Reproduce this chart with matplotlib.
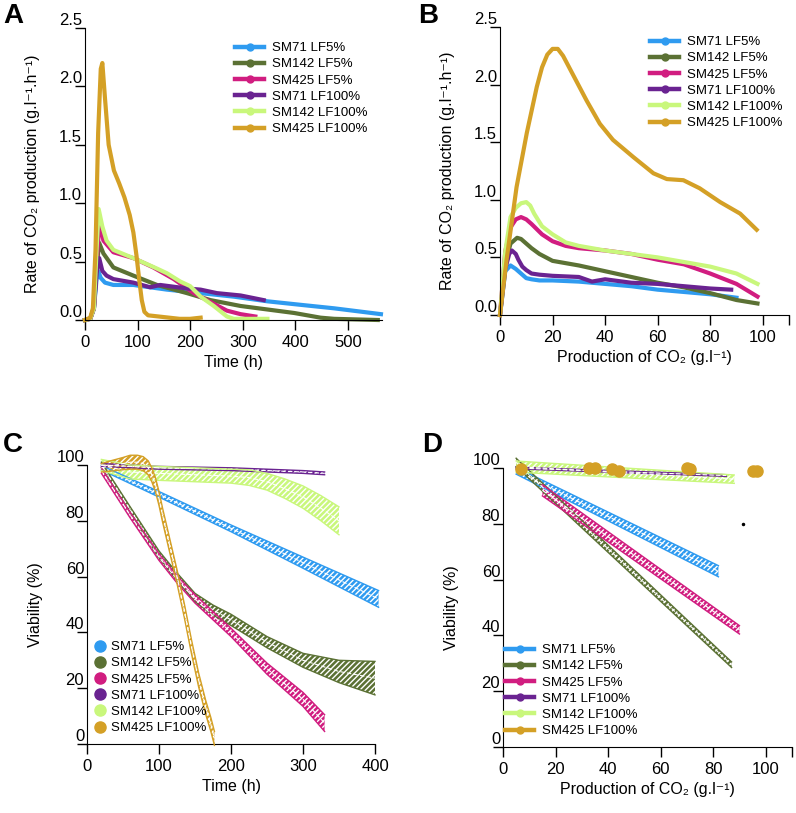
import numpy as np
import matplotlib.pyplot as plt
from matplotlib.lines import Line2D

plt.rcParams['font.family'] = ['Liberation Sans', 'DejaVu Sans']
plt.rcParams['hatch.linewidth'] = 1.0

labels = ["SM71 LF5%", "SM142 LF5%", "SM425 LF5%", "SM71 LF100%", "SM142 LF100%", "SM425 LF100%"]
colors = ["#2f9bf0", "#5b7134", "#d11d80", "#6a2391", "#c9f77c", "#d4a026"]

# ---- panel A : rate vs time
a_t = [
    [0, 10, 17, 22, 25, 30, 38, 54, 92, 156, 220, 283, 347, 410, 474, 563],
    [0, 10, 17, 22, 27, 35, 54, 92, 137, 194, 239, 296, 347, 398, 448, 474, 557],
    [0, 10, 17, 22, 28, 35, 54, 92, 130, 169, 207, 232, 270, 296, 324],
    [0, 10, 17, 22, 27, 33, 41, 54, 92, 124, 143, 194, 220, 251, 296, 340],
    [0, 10, 17, 22, 26, 33, 41, 54, 92, 137, 156, 181, 200, 220, 245, 270, 283, 347],
    [0, 10, 15, 20, 25, 30, 33, 38, 45, 55, 65, 75, 85, 92, 98, 103, 108, 113, 120, 140, 160, 180, 200, 220],
]
a_v = [
    [0, 0.01, 0.1, 0.35, 0.42, 0.36, 0.32, 0.30, 0.30, 0.26, 0.23, 0.20, 0.16, 0.13, 0.10, 0.05],
    [0, 0.01, 0.1, 0.45, 0.66, 0.57, 0.45, 0.38, 0.30, 0.23, 0.17, 0.12, 0.09, 0.06, 0.02, 0.01, 0.0],
    [0, 0.01, 0.1, 0.5, 0.85, 0.68, 0.58, 0.53, 0.45, 0.35, 0.23, 0.17, 0.08, 0.05, 0.03],
    [0, 0.01, 0.1, 0.4, 0.53, 0.42, 0.38, 0.35, 0.32, 0.28, 0.30, 0.27, 0.26, 0.23, 0.21, 0.17],
    [0, 0.01, 0.1, 0.6, 0.95, 0.8, 0.68, 0.6, 0.53, 0.44, 0.40, 0.33, 0.29, 0.20, 0.12, 0.03, 0.01, 0.01],
    [0, 0.02, 0.1, 0.6, 1.6, 2.15, 2.2, 1.9, 1.5, 1.28, 1.17, 1.05, 0.9, 0.75, 0.55, 0.35, 0.17, 0.07, 0.04, 0.03, 0.02, 0.01, 0.01, 0.02],
]

# ---- panel B : rate vs CO2 produced
b_p = [
    [0, 2, 4, 6, 8, 10, 12, 15, 20, 30, 40, 50, 60, 70, 80, 90],
    [0, 2, 4, 6.5, 8, 10, 12, 15, 20, 25, 30, 40, 50, 60, 70, 80, 90, 98],
    [0, 2, 4, 6, 8, 10, 12, 16, 20, 25, 30, 40, 50, 60, 70, 80, 90, 98],
    [0, 2, 3.5, 4.5, 6, 7, 8.5, 10, 12, 15, 20, 30, 35, 40, 50, 60, 70, 80, 88],
    [0, 2, 4, 6, 8, 10, 11.5, 13, 16, 20, 25, 30, 40, 50, 60, 70, 80, 90, 98],
    [0, 2.5, 6.3, 10.2, 14, 16, 18, 20, 22, 24, 27, 30, 33, 38, 43, 50.8, 58.4, 63.5, 69.8, 76, 83.8, 91.4, 97.7],
]
b_v = [
    [0, 0.38, 0.43, 0.40, 0.36, 0.32, 0.31, 0.30, 0.30, 0.29, 0.27, 0.25, 0.22, 0.20, 0.18, 0.15],
    [0, 0.45, 0.62, 0.67, 0.66, 0.62, 0.58, 0.53, 0.47, 0.45, 0.43, 0.38, 0.33, 0.28, 0.24, 0.19, 0.13, 0.10],
    [0, 0.55, 0.76, 0.83, 0.85, 0.83, 0.79, 0.70, 0.64, 0.60, 0.58, 0.56, 0.53, 0.48, 0.44, 0.36, 0.27, 0.16],
    [0, 0.40, 0.53, 0.56, 0.53, 0.48, 0.42, 0.39, 0.36, 0.35, 0.34, 0.33, 0.29, 0.31, 0.28, 0.27, 0.25, 0.23, 0.22],
    [0, 0.55, 0.85, 0.93, 0.97, 0.98, 0.95, 0.88, 0.77, 0.70, 0.63, 0.60, 0.56, 0.53, 0.50, 0.46, 0.42, 0.36, 0.27],
    [0, 0.48, 1.11, 1.58, 1.98, 2.15, 2.26, 2.31, 2.31, 2.25, 2.12, 1.99, 1.86, 1.66, 1.52, 1.37, 1.23, 1.18, 1.17, 1.10, 0.98, 0.88, 0.74],
]

# ---- panel C : viability vs time (fit + band half width)
c_t = [
    [20, 100, 200, 300, 405],
    [20, 60, 100, 125, 150, 175, 200, 250, 300, 350, 400],
    [20, 60, 100, 125, 150, 200, 250, 300, 330],
    [20, 100, 200, 300, 330],
    [20, 60, 100, 150, 200, 225, 250, 275, 300, 325, 350],
    [20, 30, 40, 50, 60, 70, 78, 85, 90, 95, 100, 105, 115, 125, 135, 145, 155, 165, 172, 177],
]
c_v = [
    [99, 89.5, 77.3, 65, 52],
    [100, 84, 68, 60, 52.5, 48, 44.5, 36.5, 30, 26, 23.6],
    [98, 82, 67, 59, 52, 40, 27, 16, 7.5],
    [100, 99, 98.5, 97.5, 97],
    [100, 97.5, 97, 96.5, 96, 95.5, 94, 91.5, 88.5, 84.5, 80],
    [99, 99.5, 100, 100.5, 101, 101, 100.5, 99, 96.5, 93, 88, 82, 71, 60, 48, 35, 23, 13, 7, 2],
]
c_hw = [
    [0.8, 1, 1.2, 2, 3],
    [1, 1, 1.2, 1.3, 1.5, 1.8, 2, 2, 2.5, 4, 6],
    [1, 1, 1.2, 1.3, 1.5, 1.5, 2, 2.5, 3],
    [0.5, 0.5, 0.5, 0.5, 0.5],
    [2, 2.5, 2.5, 2.5, 2.5, 2.8, 3, 3.5, 4, 4.5, 5],
    [1.5, 1.8, 2, 2.2, 2.5, 2.5, 2.5, 2.5, 2.5, 2.5, 2.5, 2.5, 2.5, 2.5, 2.5, 2.5, 2.5, 2.5, 2.5, 2.5],
]

# ---- panel D : viability vs CO2 produced
d_p = [[5, 82], [5, 87], [15, 90], [5, 85], [5, 88]]
d_v = [[99, 63], [102, 29.5], [92, 42], [100, 97.3], [100.5, 96]]
d_hw = [[1.2, 2], [1.5, 1], [2, 1.5], [0.3, 0.3], [2, 1.5]]
d_gold_p = [7, 32.7, 35, 41.5, 44, 70, 71, 95, 96.5]
d_gold_v = [99.5, 100, 100, 99.5, 99, 100, 99.5, 99, 99]

W, H = 796, 813
fig = plt.figure(figsize=(W / 100, H / 100), dpi=100)


def add_ax(l, t, r, b):
    return fig.add_axes([l / W, 1 - b / H, (r - l) / W, (b - t) / H])


def style(ax, yticks, ylab_fmt):
    ax.spines['top'].set_visible(False)
    ax.spines['right'].set_visible(False)
    ax.tick_params(direction='out', length=7, width=1, labelsize=12)
    ax.tick_params(axis='y', pad=-5)
    ax.set_yticks(yticks)
    ax.set_yticklabels([ylab_fmt % y for y in yticks])
    for lab in ax.get_yticklabels():
        lab.set_verticalalignment('bottom')


def band(ax, x, y, hw, color):
    x = np.array(x, float)
    y = np.array(y, float)
    hw = np.array(hw, float)
    ax.fill_between(x, y - hw, y + hw, facecolor=color, edgecolor='white',
                    hatch='//////', linewidth=0, clip_on=False, zorder=2)
    ax.plot(x, y - hw, color=color, lw=1, clip_on=False, zorder=3)
    ax.plot(x, y + hw, color=color, lw=1, clip_on=False, zorder=3)
    ax.plot(x, y, color='white', lw=0.8, ls=(0, (4, 2)), clip_on=False, zorder=3)


def line_legend(ax, anchor):
    handles = [Line2D([], [], color=c, lw=3.2, marker='o', ms=5) for c in colors]
    ax.legend(handles, labels, loc='upper left', bbox_to_anchor=anchor,
              bbox_transform=fig.transFigure, frameon=False, fontsize=9.5,
              handlelength=2.2, handletextpad=0.6, labelspacing=0.3,
              borderpad=0, borderaxespad=0)


# A
axA = add_ax(85, 28, 382, 320)
for t, v, c in zip(a_t, a_v, colors):
    axA.plot(t, v, color=c, lw=3, clip_on=False, solid_joinstyle='round')
axA.set_xlim(0, 565)
axA.set_ylim(0, 2.5)
style(axA, [0, 0.5, 1.0, 1.5, 2.0, 2.5], '%.1f')
axA.set_xticks([0, 100, 200, 300, 400, 500])
axA.set_xlabel("Time (h)", fontsize=11.5)
axA.set_ylabel("Rate of CO\u2082 production (g.l\u207b\u00b9.h\u207b\u00b9)", fontsize=11.5, labelpad=14)
line_legend(axA, (235 / W, 1 - 42 / H))

# B
axB = add_ax(500, 27, 789, 315)
for p, v, c in zip(b_p, b_v, colors):
    axB.plot(p, v, color=c, lw=3, clip_on=False, solid_joinstyle='round')
axB.set_xlim(0, 110)
axB.set_ylim(0, 2.5)
style(axB, [0, 0.5, 1.0, 1.5, 2.0, 2.5], '%.1f')
axB.set_xticks([0, 20, 40, 60, 80, 100, 110])
axB.set_xticklabels(['0', '20', '40', '60', '80', '100', ''])
axB.set_xlabel("Production of CO\u2082 (g.l\u207b\u00b9)", fontsize=11.5)
axB.set_ylabel("Rate of CO\u2082 production (g.l\u207b\u00b9.h\u207b\u00b9)", fontsize=11.5, labelpad=14)
line_legend(axB, (650 / W, 1 - 36 / H))

# C
axC = add_ax(87, 465, 375, 744)
for t, v, hw, c in zip(c_t, c_v, c_hw, colors):
    band(axC, t, v, hw, c)
axC.set_xlim(0, 400)
axC.set_ylim(0, 100)
style(axC, [0, 20, 40, 60, 80, 100], '%d')
axC.set_xticks([0, 100, 200, 300, 400])
axC.set_xlabel("Time (h)", fontsize=11.5)
axC.set_ylabel("Viability (%)", fontsize=11.5, labelpad=10)
handles = [Line2D([], [], ls='none', marker='o', ms=8, color=c) for c in colors]
axC.legend(handles, labels, loc='upper left', bbox_to_anchor=(94 / W, 1 - 641 / H),
           bbox_transform=fig.transFigure, frameon=False, fontsize=9.5,
           handlelength=0.9, handletextpad=0.4, labelspacing=0.3,
           borderpad=0, borderaxespad=0)

# D
axD = add_ax(503, 468, 792, 747)
for p, v, hw, c in zip(d_p, d_v, d_hw, colors[:5]):
    band(axD, p, v, hw, c)
axD.plot(d_gold_p, d_gold_v, ls='none', marker='o', ms=8, color=colors[5],
         mec=colors[5], clip_on=False, zorder=4)
axD.plot([91.5], [80], ls='none', marker='o', ms=1.5, color='black')
axD.set_xlim(0, 110)
axD.set_ylim(0, 100)
style(axD, [0, 20, 40, 60, 80, 100], '%d')
axD.set_xticks([0, 20, 40, 60, 80, 100, 110])
axD.set_xticklabels(['0', '20', '40', '60', '80', '100', ''])
axD.set_xlabel("Production of CO\u2082 (g.l\u207b\u00b9)", fontsize=11.5)
axD.set_ylabel("Viability (%)", fontsize=11.5, labelpad=10)
line_legend(axD, (505 / W, 1 - 644 / H))

for letter, x, y in [("A", 3, 3), ("B", 418, 3), ("C", 3, 432), ("D", 422, 432)]:
    fig.text(x / W, 1 - y / H, letter, fontsize=20, fontweight='bold', va='top', ha='left')

fig.savefig("out.png", dpi=100)
